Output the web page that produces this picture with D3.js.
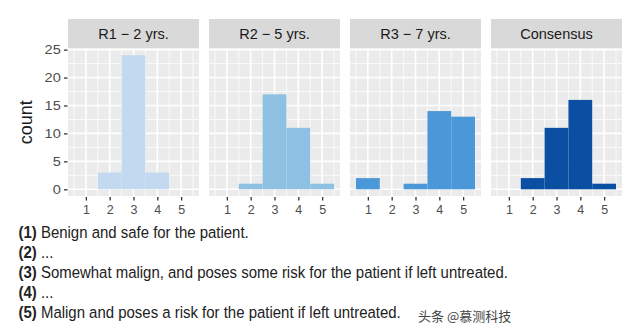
<!DOCTYPE html>
<html>
<head>
<meta charset="utf-8">
<script src="https://cdn.jsdelivr.net/npm/d3@7"></script>
<style>
  html, body { margin: 0; padding: 0; background: #ffffff; }
  svg { display: block; }
</style>
</head>
<body>
<svg id="chart" width="640" height="335"></svg>
<script>
// ---- data ----
const categories = [1, 2, 3, 4, 5];
const panelNames = ["R1 \u2212 2 yrs.", "R2 \u2212 5 yrs.", "R3 \u2212 7 yrs.", "Consensus"];
const r1Counts = [0, 3, 24, 3, 0];
const r2Counts = [0, 1, 17, 11, 1];
const r3Counts = [2, 0, 1, 14, 13];
const consensusCounts = [0, 2, 11, 16, 1];
const panelColors = ["#c3d9ef", "#8ec1e1", "#4a98d7", "#0b4fa2"];
const yTickValues = [0, 5, 10, 15, 20, 25];
const yMinorValues = [2.5, 7.5, 12.5, 17.5, 22.5];
const xMinorValues = [0.5, 1.5, 2.5, 3.5, 4.5, 5.5];
const noteNumbers = ["(1)", "(2)", "(3)", "(4)", "(5)"];
const noteTexts = [
  "Benign and safe for the patient.",
  "...",
  "Somewhat malign, and poses some risk for the patient if left untreated.",
  "...",
  "Malign and poses a risk for the patient if left untreated."
];
const watermark = "\u5934\u6761 @\u6155\u6d4b\u79d1\u6280";

const seriesCounts = [r1Counts, r2Counts, r3Counts, consensusCounts];

// ---- layout ----
const svg = d3.select("#chart");
const panelTop = 48.5, panelBottom = 196, stripTop = 19;
const font = "'Liberation Sans', Arial, Helvetica, sans-serif";

const panelScale = d3.scaleBand().domain(panelNames).range([68, 622]).paddingInner(0.071).paddingOuter(0);
const y = d3.scaleLinear().domain([-1.2, 25.2]).range([panelBottom, panelTop]);

panelNames.forEach((name, i) => {
  const x0 = panelScale(name), bw = panelScale.bandwidth();
  const x = d3.scaleLinear().domain([0.25, 5.75]).range([x0, x0 + bw]);
  const g = svg.append("g");

  // strip
  g.append("rect").attr("x", x0).attr("y", stripTop).attr("width", bw).attr("height", panelTop - stripTop)
    .attr("fill", "#d9d9d9");
  g.append("text").attr("x", x0 + bw / 2).attr("y", (stripTop + panelTop) / 2 + 5)
    .attr("text-anchor", "middle").attr("font-family", font).attr("font-size", 14.5)
    .attr("fill", "#1a1a1a").text(name);

  // panel bg
  g.append("rect").attr("x", x0).attr("y", panelTop).attr("width", bw).attr("height", panelBottom - panelTop)
    .attr("fill", "#ebebeb");

  // grid
  g.selectAll(".ymin").data(yMinorValues).join("line")
    .attr("x1", x0).attr("x2", x0 + bw).attr("y1", d => y(d)).attr("y2", d => y(d))
    .attr("stroke", "#fafafa").attr("stroke-width", 1);
  g.selectAll(".xmin").data(xMinorValues).join("line")
    .attr("y1", panelTop).attr("y2", panelBottom).attr("x1", d => x(d)).attr("x2", d => x(d))
    .attr("stroke", "#fafafa").attr("stroke-width", 1);
  g.selectAll(".ymaj").data(yTickValues).join("line")
    .attr("x1", x0).attr("x2", x0 + bw).attr("y1", d => y(d)).attr("y2", d => y(d))
    .attr("stroke", "#ffffff").attr("stroke-width", 1.6);
  g.selectAll(".xmaj").data(categories).join("line")
    .attr("y1", panelTop).attr("y2", panelBottom).attr("x1", d => x(d)).attr("x2", d => x(d))
    .attr("stroke", "#ffffff").attr("stroke-width", 1.6);

  // bars
  const counts = seriesCounts[i];
  g.selectAll(".bar").data(categories.map((c, k) => ({ c, v: counts[k] })).filter(d => d.v > 0)).join("rect")
    .attr("x", d => x(d.c - 0.5)).attr("width", d => x(d.c + 0.5) - x(d.c - 0.5))
    .attr("y", d => y(d.v)).attr("height", d => y(0) - y(d.v))
    .attr("fill", panelColors[i]);

  // x axis
  const xAxis = d3.axisBottom(x).tickValues(categories).tickSize(3.5).tickPadding(4.5).tickFormat(d3.format("d"));
  const ax = g.append("g").attr("transform", `translate(0,${panelBottom + 1})`).call(xAxis);
  ax.select(".domain").remove();
  ax.selectAll("line").attr("stroke", "#333333").attr("stroke-width", 1.3);
  ax.selectAll("text").attr("font-family", font).attr("font-size", 12.5).attr("fill", "#4d4d4d");
});

// y axis
const yAxis = d3.axisLeft(y).tickValues(yTickValues).tickSize(3.5).tickPadding(2.5);
const ay = svg.append("g").attr("transform", `translate(${panelScale(panelNames[0]) - 0.5},0)`).call(yAxis);
ay.select(".domain").remove();
ay.selectAll("line").attr("stroke", "#333333").attr("stroke-width", 1.3);
ay.selectAll("text").attr("font-family", font).attr("font-size", 13).attr("fill", "#4d4d4d")
  .attr("transform", "scale(1.12,1)");

svg.append("text").attr("transform", `translate(32,${(panelTop + panelBottom) / 2}) rotate(-90)`)
  .attr("text-anchor", "middle").attr("font-family", font).attr("font-size", 18).attr("fill", "#1a1a1a")
  .text("count");

// notes (horizontally condensed like the reference)
const notes = svg.append("g").attr("transform", "translate(18.5,0) scale(0.88,1)");
noteTexts.forEach((t, i) => {
  const tx = notes.append("text").attr("x", 0).attr("y", 238.5 + i * 20)
    .attr("font-family", font).attr("font-size", 17).attr("fill", "#222222");
  tx.append("tspan").attr("font-weight", "bold").text(noteNumbers[i]);
  tx.append("tspan").text(" " + t);
});

svg.append("text").attr("x", 418).attr("y", 321).attr("font-family", "'Noto Sans CJK SC', sans-serif")
  .attr("font-size", 13).attr("fill", "#444444").text(watermark);
</script>
</body>
</html>
